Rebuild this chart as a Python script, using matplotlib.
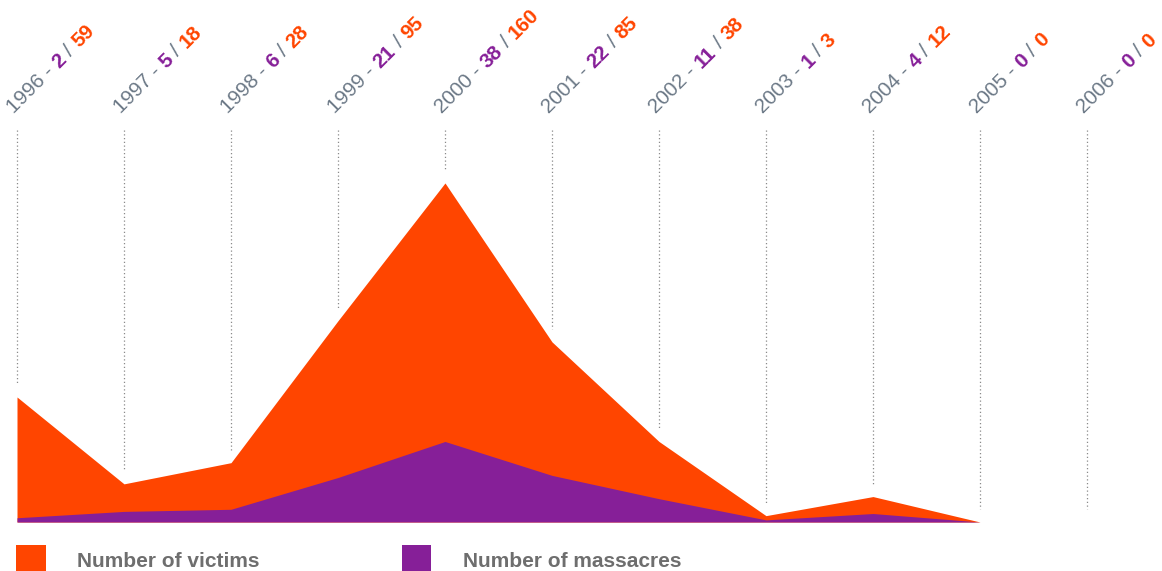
import matplotlib
matplotlib.use("Agg")
import matplotlib.pyplot as plt
import matplotlib.transforms as mtransforms
import numpy as np

years = ["1996", "1997", "1998", "1999", "2000", "2001", "2002", "2003", "2004", "2005", "2006"]
massacres = [2, 5, 6, 21, 38, 22, 11, 1, 4, 0, 0]
victims = [59, 18, 28, 95, 160, 85, 38, 3, 12, 0, 0]

ORANGE = "#FF4500"
PURPLE = "#861F98"
GRAY = "#6B7886"
LEG_GRAY = "#6E6E6E"
FONT = "Liberation Sans"

W, H, DPI = 1162, 571, 100
fig = plt.figure(figsize=(W / DPI, H / DPI), dpi=DPI)
ax = fig.add_axes([0, 0, 1, 1])
ax.axis("off")

# pixel geometry
x0px, dxpx = 17, 107
base_from_bottom = 49
pxu = 2.119
ax.set_xlim(-x0px / dxpx, (W - x0px) / dxpx)
ax.set_ylim(-base_from_bottom / pxu, (H - base_from_bottom) / pxu)

x = np.arange(len(years))
v = np.array(victims, dtype=float)
m = np.array(massacres, dtype=float)

# dotted guide lines
top_y = (H - 130 - base_from_bottom) / pxu
for i in range(len(years)):
    ax.plot([x[i], x[i]], [top_y, v[i] + 13 / pxu], color="#8a8a8a",
            lw=0.9, ls=(0, (1, 2)), zorder=1)

# areas (last point at 2005)
n = len(years) - 1
ax.fill_between(x[:n], 0, v[:n], color=ORANGE, lw=0, zorder=2)
ax.fill_between(x[:n], 0, m[:n], color=PURPLE, lw=0, zorder=3)

# multi-colour rotated labels
fig.canvas.draw()
renderer = fig.canvas.get_renderer()
fs = 14.8


def text_width(s, weight):
    t1 = fig.text(0, 0, s + "|", fontsize=fs, family=FONT, weight=weight)
    t2 = fig.text(0, 0, "|", fontsize=fs, family=FONT, weight=weight)
    w = t1.get_window_extent(renderer).width - t2.get_window_extent(renderer).width
    t1.remove()
    t2.remove()
    return w


ang = np.deg2rad(45)
label_y = (H - 114 - base_from_bottom) / pxu
for i in range(len(years)):
    pieces = [(years[i] + " - ", GRAY, "normal"),
              (str(massacres[i]), PURPLE, "bold"),
              (" / ", GRAY, "normal"),
              (str(victims[i]), ORANGE, "bold")]
    off = 0.0
    for s, c, wgt in pieces:
        dx = -3 + off * np.cos(ang)
        dy = off * np.sin(ang)
        tr = ax.transData + mtransforms.ScaledTranslation(dx / DPI, dy / DPI, fig.dpi_scale_trans)
        ax.text(x[i], label_y, s, transform=tr, rotation=45, rotation_mode="anchor",
                ha="left", va="baseline", color=c, fontsize=fs, family=FONT,
                weight=wgt, clip_on=False)
        off += text_width(s, wgt)

# legend
fig.patches.append(plt.Rectangle((16 / W, 0), 30 / W, 26 / H, transform=fig.transFigure,
                                 color=ORANGE, lw=0))
fig.patches.append(plt.Rectangle((402 / W, 0), 29 / W, 26 / H, transform=fig.transFigure,
                                 color=PURPLE, lw=0))
fig.text(77 / W, 4 / H, "Number of victims", color=LEG_GRAY, fontsize=15, family=FONT,
         weight="bold", ha="left", va="baseline")
fig.text(463 / W, 4 / H, "Number of massacres", color=LEG_GRAY, fontsize=15, family=FONT,
         weight="bold", ha="left", va="baseline")

fig.savefig("out.png", dpi=DPI)
